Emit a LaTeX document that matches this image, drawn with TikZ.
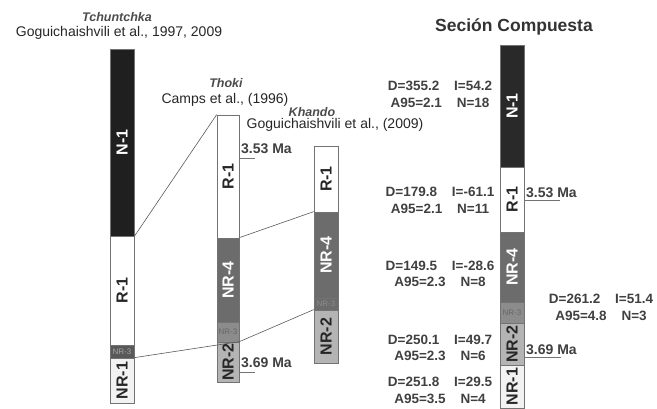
\documentclass[tikz,border=0pt]{standalone}
\usepackage{fontspec}
\setmainfont{Liberation Sans}
\usetikzlibrary{positioning}
\newcommand\colw{24}
\newcommand\gap{\hspace{1.1em}}
\definecolor{greyfour}{HTML}{6C6C6C}
\definecolor{greythree}{HTML}{8C8C8C}
\definecolor{greytwo}{HTML}{B4B4B4}
\definecolor{greyone}{HTML}{F2F2F2}
\tikzset{layer/.style={rectangle,draw=black!55,line width=0.7pt,inner sep=0pt,minimum width=\colw pt,font=\fontsize{16}{16}\selectfont\bfseries},
  normlayer/.style={layer,fill=black!88,text=white},
  revlayer/.style={layer,fill=white,text=black!85},
  nrfour/.style={layer,fill=greyfour,text=white},
  nrthree/.style={layer,fill=greythree,text=black!60,font=\fontsize{8}{8}\selectfont},
  nrtwo/.style={layer,fill=greytwo,text=black!85},
  nrone/.style={layer,fill=greyone,text=black!85},
  site/.style={font=\fontsize{12.5}{12.5}\selectfont\itshape\bfseries,text=black!70},
  ref/.style={font=\fontsize{14}{14}\selectfont,text=black!85},
  headline/.style={font=\fontsize{17.5}{18}\selectfont\bfseries,text=black!80},
  stats/.style={align=center,font=\fontsize{13.5}{16.5}\selectfont\bfseries,text=black!75},
  age/.style={anchor=west,inner sep=1pt,font=\fontsize{14}{14}\selectfont\bfseries,text=black!75},
  tick/.style={draw=black!55,line width=0.6pt},
  link/.style={draw=black!65,line width=0.6pt}}

\begin{document}
\begin{tikzpicture}[x=1pt,y=-1pt]
                \useasboundingbox (0,0) rectangle (657,409);
                % Tchuntchka
                \node[site] (tchun) at (117,17) {Tchuntchka};
                \node[ref] (tchunref) at (119,33) {Goguichaishvili et al., 1997, 2009};
                \node[normlayer,minimum height=187pt] (c1n1) at (122,142.5) {\rotatebox{90}{N-1}};
                \node[revlayer,minimum height=109pt] (c1r1) at (122,290.5) {\rotatebox{90}{R-1}};
                \node[nrthree,fill=black!65,text=black!35,minimum height=13pt] (c1nr3) at (122,351.5) {NR-3};
                \node[nrone,minimum height=45pt] (c1nr1) at (122,380.5) {\rotatebox{90}{NR-1}};

                % Thoki
                \node[site] (thoki) at (226,83) {Thoki};
                \node[ref] (thokiref) at (225,100) {Camps et al., (1996)};
                \node[revlayer,minimum width=22pt,minimum height=123pt] (c2r1) at (228,176.5) {\rotatebox{90}{R-1}};
                \node[nrfour,minimum width=22pt,minimum height=84pt] (c2nr4) at (228,280) {\rotatebox{90}{NR-4}};
                \node[nrthree,minimum width=22pt,minimum height=20pt] (c2nr3) at (228,332) {NR-3};
                \node[nrtwo,minimum width=22pt,minimum height=40pt] (c2nr2) at (228,362) {\rotatebox{90}{NR-2}};

                % Khando
                \node[site] (khando) at (312,112) {Khando};
                \node[ref] (khandoref) at (335,125) {Goguichaishvili et al., (2009)};
                \node[revlayer,minimum height=66pt] (c3r1) at (326,179) {\rotatebox{90}{R-1}};
                \node[nrfour,minimum height=86pt] (c3nr4) at (326,255) {\rotatebox{90}{NR-4}};
                \node[nrthree,fill=greyfour,text=black!45,minimum height=12pt] (c3nr3) at (326,304) {NR-3};
                \node[nrtwo,minimum height=53pt] (c3nr2) at (326,336.5) {\rotatebox{90}{NR-2}};

                % Seccion compuesta
                \node[headline] (compuesta) at (514,27) {Seción Compuesta};
                \node[normlayer,fill=black!84,minimum height=122pt] (c4n1) at (512,106) {\rotatebox{90}{N-1}};
                \node[revlayer,minimum height=65pt] (c4r1) at (512,199.5) {\rotatebox{90}{R-1}};
                \node[nrfour,minimum height=70pt] (c4nr4) at (512,267) {\rotatebox{90}{NR-4}};
                \node[nrthree,minimum height=21pt] (c4nr3) at (512,312.5) {NR-3};
                \node[nrtwo,minimum height=42pt] (c4nr2) at (512,344) {\rotatebox{90}{NR-2}};
                \node[nrone,minimum height=43pt] (c4nr1) at (512,386.5) {\rotatebox{90}{NR-1}};

                % correlaciones
                \draw[link] (c1n1.south east) -- (c2r1.north west);
                \draw[link] (c1nr1.north east) -- (c2nr2.north east) -- (c3nr2.north west);
                \draw[link] (c2nr4.north east) -- (c3nr4.north west);

                % edades
                \coordinate (tk1) at (255,158);
                \coordinate (tk2) at (255,372);
                \coordinate (tk3) at (560,200);
                \coordinate (tk4) at (561,357);
                \draw[tick] (c2r1.east |- tk1) -- (tk1);
                \draw[tick] (c2nr2.east |- tk2) -- (tk2);
                \draw[tick] (c4r1.east |- tk3) -- (tk3);
                \draw[tick] (c4nr2.east |- tk4) -- (tk4);
                \node[age] (age1) at (240,149) {3.53 Ma};
                \node[age] (age2) at (240,363) {3.69 Ma};
                \node[age] (age3) at (525,193) {3.53 Ma};
                \node[age] (age4) at (525,350) {3.69 Ma};

                % direcciones medias
                \foreach \n/\x/\y/\d/\i/\a/\k in {1/440/94.5/355.2/54.2/2.1/18, 2/440/200.5/179.8/-61.1/2.1/11,
                    3/440/274/149.5/-28.6/2.3/8, 4/601/307.5/261.2/51.4/4.8/3,
                    5/440/348/250.1/49.7/2.3/6, 6/440/390.5/251.8/29.5/3.5/4}
                    \node[stats] (stat\n) at (\x,\y) {D=\d\gap I=\i\\A95=\a\gap N=\k};
            \end{tikzpicture}
\end{document}
